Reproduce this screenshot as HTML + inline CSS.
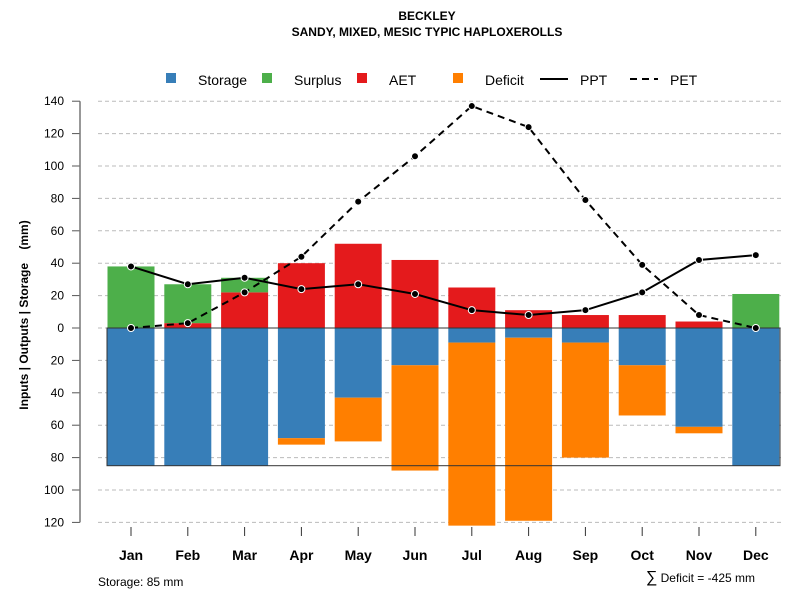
<!DOCTYPE html>
<html><head><meta charset="utf-8"><style>
body{margin:0;background:#fff}
svg text{font-family:"Liberation Sans",sans-serif}
</style></head><body>
<svg id="c" width="800" height="600" viewBox="0 0 800 600">
<text x="427" y="20" text-anchor="middle" font-size="12" font-weight="bold">BECKLEY</text>
<text x="427" y="36" text-anchor="middle" font-size="12" font-weight="bold">SANDY, MIXED, MESIC TYPIC HAPLOXEROLLS</text>
<g id="legend"></g>
<g id="grid"></g>
<g id="bars"></g>
<g id="lines"></g>
<g id="axes"></g>
<text transform="translate(28,315) rotate(-90)" text-anchor="middle" font-size="12" font-weight="bold">Inputs | Outputs | Storage&#160;&#160;&#160;&#160;(mm)</text>
<text x="98" y="586" font-size="12">Storage: 85 mm</text>
<text x="755" y="582" text-anchor="end" font-size="12"><tspan font-size="16">∑</tspan> Deficit = -425 mm</text>
</svg>
<script>
const months=["Jan","Feb","Mar","Apr","May","Jun","Jul","Aug","Sep","Oct","Nov","Dec"];
const storage=[85,85,85,68,43,23,9,6,9,23,61,85];
const deficit=[0,0,0,4,27,65,113,113,71,31,4,0];
const aet=[0,3,22,40,52,42,25,11,8,8,4,0];
const surplus=[38,24,9,0,0,0,0,0,0,0,0,21];
const ppt=[38,27,31,24,27,21,11,8,11,22,42,45];
const pet=[0,3,22,44,78,106,137,124,79,39,8,0];
const yTicks=[140,120,100,80,60,40,20,0,20,40,60,80,100,120];
const yVals=[140,120,100,80,60,40,20,0,-20,-40,-60,-80,-100,-120];
const storageCap=85;
const NS="http://www.w3.org/2000/svg";
function y(v){return 328-v*1.62;}
function x(i){return 131+i*56.8;}
function mk(p,t,a){const e=document.createElementNS(NS,t);for(const k in a)e.setAttribute(k,a[k]);document.getElementById(p).appendChild(e);return e;}
const C={s:"#377eb8",u:"#4daf4a",a:"#e41a1c",d:"#ff7f00"};
yVals.forEach((v,i)=>{
 const g=mk("grid","line",{x1:98,x2:783,y1:y(v),y2:y(v),stroke:"#bbb","stroke-dasharray":"4,3"});
 
 
 const t=mk("axes","line",{x1:72,x2:80,y1:y(v),y2:y(v),stroke:"#555"});
 
 
 const l=mk("axes","text",{x:64,y:y(v)+4,"text-anchor":"end","font-size":12});
 l.textContent=yTicks[i];
 
 
});
const ax=mk("axes","line",{x1:80,x2:80,y1:y(140),y2:y(-120),stroke:"#777","stroke-width":1.5});


const bw=47;
function bar(i,v0,v1,c,n){if(v0===v1)return;const r=mk("bars","rect",{x:x(i)-bw/2,y:Math.min(y(v0),y(v1)),width:bw,height:Math.abs(y(v1)-y(v0)),fill:c});
 
 }
months.forEach((m,i)=>{
 bar(i,0,-storage[i],C.s,'storage-bar-'+m.toLowerCase());
 bar(i,-storage[i],-storage[i]-deficit[i],C.d,'deficit-bar-'+m.toLowerCase());
 bar(i,0,aet[i],C.a,'aet-bar-'+m.toLowerCase());
 bar(i,aet[i],aet[i]+surplus[i],C.u,'surplus-bar-'+m.toLowerCase());
 const t=mk("axes","line",{x1:x(i),x2:x(i),y1:527,y2:536,stroke:"#333"});
 
 
 const l=mk("axes","text",{x:x(i),y:560,"text-anchor":"middle","font-size":14,"font-weight":"bold"});
 l.textContent=m;
 
 
});
const box=mk("bars","rect",{x:107,y:y(0),width:673,height:y(-storageCap)-y(0),fill:"none",stroke:"#333"});


function line(arr,dash,n){
 const p=mk("lines","polyline",{points:arr.map((v,i)=>x(i)+","+y(v)).join(" "),fill:"none",stroke:"#000","stroke-width":2,"stroke-dasharray":dash});
 
 
 arr.forEach((v,i)=>{const c=mk("lines","circle",{cx:x(i),cy:y(v),r:3.5,fill:"#000",stroke:"#fff","stroke-width":1});
 
 });
}
line(pet,"7,5","pet");
line(ppt,"none","ppt");
const leg=[["s","Storage",166],["u","Surplus",262],["a","AET",357],["d","Deficit",453]];
leg.forEach(d=>{
 const r=mk("legend","rect",{x:d[2],y:73,width:10,height:10,fill:C[d[0]]});
 
 
 const t=mk("legend","text",{x:d[2]+32,y:85,"font-size":14});
 t.textContent=d[1];
 
 
});
[["PPT",540,"none"],["PET",630,"7,5"]].forEach(d=>{
 const l=mk("legend","line",{x1:d[1],x2:d[1]+28,y1:79,y2:79,stroke:"#000","stroke-width":2,"stroke-dasharray":d[2]});
 
 
 const t=mk("legend","text",{x:d[1]+40,y:85,"font-size":14});
 t.textContent=d[0];
 
 
});
</script>
</body></html>
